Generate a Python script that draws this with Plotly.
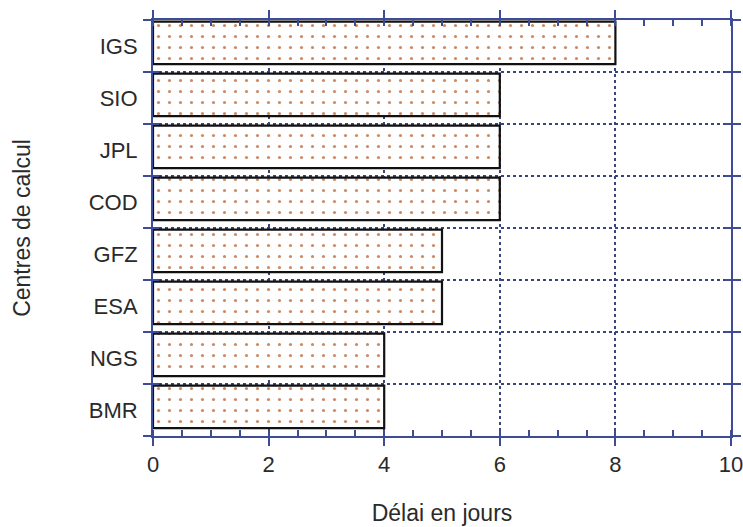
import plotly.graph_objects as go

centres = ["BMR", "NGS", "ESA", "GFZ", "COD", "JPL", "SIO", "IGS"]
delais = [4, 4, 5, 5, 6, 6, 6, 8]
x_ticks = [0, 2, 4, 6, 8, 10]

AX = "#3e4b96"
GRID = "#3a447e"
FONT = "Liberation Sans, Arial, sans-serif"
TXT = "#2a2a2a"

fig = go.Figure()
fig.add_trace(go.Bar(
    x=delais, y=centres, orientation="h",
    width=0.82, offset=-0.35,
    marker=dict(
        color="white",
        line=dict(color="#111111", width=2.2),
        pattern=dict(shape=".", fgcolor="#cc8a66", bgcolor="white",
                     size=11, solidity=0.065, fillmode="replace"),
    ),
    showlegend=False,
))

fig.update_layout(
    width=743, height=527,
    margin=dict(l=153, r=12, t=20, b=91, autoexpand=False),
    paper_bgcolor="white", plot_bgcolor="white",
    font=dict(family=FONT, size=23, color=TXT),
    xaxis=dict(
        range=[0, 10], tickvals=x_ticks, ticktext=[str(v) for v in x_ticks],
        showline=True, linecolor=AX, linewidth=2, mirror="ticks",
        ticks="outside", ticklen=8, tickwidth=2, tickcolor=AX,
        minor=dict(dtick=0.5, ticks="inside", ticklen=6, tickwidth=1.5,
                   tickcolor=AX, showgrid=False),
        showgrid=True, gridcolor=GRID, gridwidth=2, griddash="dot",
        zeroline=False, automargin=False, ticklabeloverflow="allow",
        title=dict(text="Délai en jours", standoff=28, font=dict(size=23)),
        tickfont=dict(size=22),
    ),
    yaxis=dict(
        type="category", categoryorder="array", categoryarray=centres,
        range=[-0.5, 7.5], tickson="boundaries",
        showline=True, linecolor=AX, linewidth=2, mirror="ticks",
        ticks="outside", ticklen=8, tickwidth=2, tickcolor=AX,
        ticklabelstandoff=9,
        showgrid=True, gridcolor=GRID, gridwidth=2, griddash="dot",
        zeroline=False, automargin=False,
        title=dict(text="Centres de calcul", standoff=52, font=dict(size=23)),
        tickfont=dict(size=22),
    ),
    xaxis2=dict(
        overlaying="x", range=[0, 10], tickvals=x_ticks,
        showticklabels=False, ticks="inside", ticklen=6, tickwidth=2,
        tickcolor=AX, mirror="ticks", showgrid=False, zeroline=False,
        showline=False,
    ),
    yaxis2=dict(
        overlaying="y", range=[-0.5, 7.5],
        tickvals=[-0.5, 0.5, 1.5, 2.5, 3.5, 4.5, 5.5, 6.5, 7.5],
        showticklabels=False, ticks="inside", ticklen=6, tickwidth=2,
        tickcolor=AX, mirror="ticks", showgrid=False, zeroline=False,
        showline=False,
    ),
)

fig.add_trace(go.Scatter(x=[None], y=[None], xaxis="x2", yaxis="y2",
                         showlegend=False, hoverinfo="skip"))

fig.write_html("out.html", config={"displayModeBar": False},
               post_script="document.body.style.margin='0';")
